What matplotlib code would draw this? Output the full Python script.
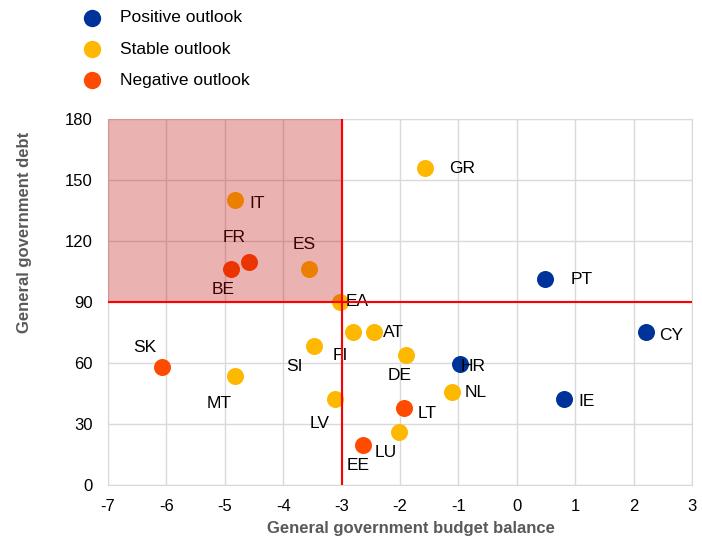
import matplotlib
matplotlib.use("Agg")
import matplotlib.pyplot as plt
from matplotlib.patches import Rectangle

plt.rcParams['font.family'] = ['Liberation Sans', 'DejaVu Sans']
plt.rcParams['axes.unicode_minus'] = False

countries = ["IT", "FR", "BE", "ES", "EA", "SK", "MT", "SI", "FI", "AT", "DE", "LV", "LT", "LU", "EE",
             "GR", "PT", "CY", "HR", "NL", "IE"]
balance = [-4.82, -4.58, -4.89, -3.56, -3.03, -6.08, -4.83, -3.48, -2.81, -2.45, -1.89, -3.11, -1.93, -2.02, -2.63,
           -1.57, 0.49, 2.22, -0.97, -1.11, 0.81]
debt = [140, 109.5, 106, 106, 90, 58.2, 53.6, 68.4, 75.1, 75.1, 63.9, 42.3, 37.7, 26.2, 19.5,
        155.8, 101.2, 75.1, 59.4, 45.6, 42.2]
outlook = ["Stable", "Negative", "Negative", "Stable", "Stable", "Negative", "Stable", "Stable", "Stable", "Stable",
           "Stable", "Stable", "Negative", "Stable", "Negative", "Stable", "Positive", "Positive", "Positive",
           "Stable", "Positive"]
# label offsets in points (dx, dy) and alignment
label_pos = {
    "IT": (10, -2, "left"), "FR": (-11, 18, "center"), "BE": (-6, -14.5, "center"), "ES": (-3.5, 18, "center"),
    "EA": (4, 0, "left"), "SK": (-12, 14, "center"), "MT": (-11, -19.5, "center"), "SI": (-14, -15, "center"),
    "FI": (-9, -17, "center"), "AT": (6.5, 0, "left"), "DE": (-5, -15, "center"), "LV": (-11, -18, "center"),
    "LT": (10, -4, "left"), "LU": (-9.5, -15, "center"), "EE": (-3.5, -14.5, "center"), "GR": (17, 0, "left"),
    "PT": (18, 0, "left"), "CY": (9, -2, "left"), "HR": (0, -2, "left"), "NL": (9, 0, "left"),
    "IE": (10, -2, "left"),
}

colors = {"Positive": "#003399", "Stable": "#FFB800", "Negative": "#FF4B00"}
legend_labels = {"Positive": "Positive outlook", "Stable": "Stable outlook", "Negative": "Negative outlook"}

fig = plt.figure(figsize=(7.02, 5.41), dpi=100)
W, H = 702, 541
ax = fig.add_axes([108 / W, 1 - 485 / H, (692 - 108) / W, (485 - 119) / H])

ax.set_xlim(-7, 3)
ax.set_ylim(0, 180)
ax.set_xticks(range(-7, 4))
ax.set_yticks(range(0, 181, 30))
ax.grid(True, color="#D9D9D9", lw=1)
ax.set_axisbelow(True)
for s in ax.spines.values():
    s.set_color("#D9D9D9")
ax.tick_params(length=0, labelsize=12, colors="#000000")
ax.tick_params(axis="x", pad=10)
ax.tick_params(axis="y", pad=11)

for c, x, y, o in zip(countries, balance, debt, outlook):
    ax.scatter(x, y, s=150, color=colors[o], zorder=3, linewidths=0)
    dx, dy, ha = label_pos[c]
    ax.annotate(c, (x, y), xytext=(dx, dy), textcoords="offset points", ha=ha, va="center",
                fontsize=12.5, color="#000000", zorder=3.5)

# shaded excessive zone drawn over markers and labels
ax.add_patch(Rectangle((-7, 90), 4, 90, facecolor="#C00000", alpha=0.3, edgecolor="none", zorder=4))
ax.axvline(-3, color="#FF0000", lw=1.5, zorder=5)
ax.axhline(90, color="#FF0000", lw=1.5, zorder=5)

# legend
for i, k in enumerate(["Positive", "Stable", "Negative"]):
    yy = 1 - (18 + i * 31) / H
    fig.add_artist(plt.Line2D([92 / W], [yy], marker="o", markersize=12.5, color=colors[k],
                              markeredgewidth=0, linestyle="none", transform=fig.transFigure))
    fig.text(120 / W, yy, legend_labels[k], fontsize=12.5, va="center", ha="left")

fig.text(25 / W, 1 - 232 / H, "General government debt", rotation=90, fontsize=12, fontweight="bold",
         color="#595959", ha="center", va="center")
fig.text(411 / W, 1 - 528 / H, "General government budget balance", fontsize=12, fontweight="bold",
         color="#595959", ha="center", va="center")

fig.savefig("out.png", dpi=100)
